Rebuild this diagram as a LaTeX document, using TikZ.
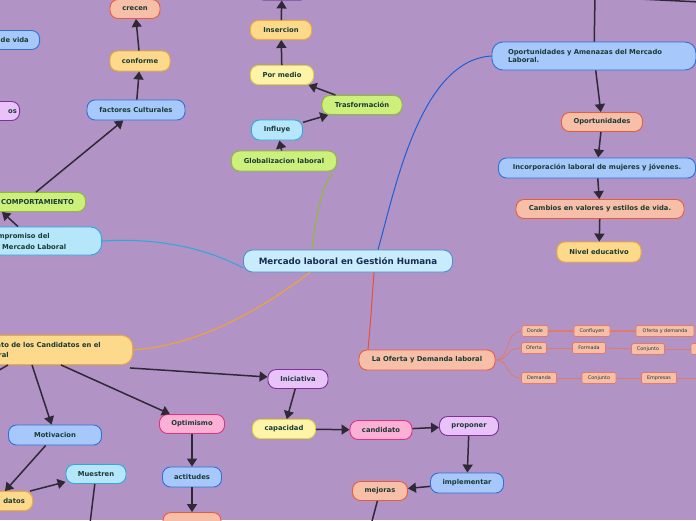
\documentclass[tikz,border=0pt]{standalone}
\usepackage{fontspec}
\setmainfont{DejaVu Sans}
\usetikzlibrary{arrows.meta}
\definecolor{bg}{HTML}{B193C6}
\definecolor{txt}{HTML}{1B3B37}
\definecolor{maintxt}{HTML}{1A2B52}
\definecolor{edge}{HTML}{2F2837}
\definecolor{blueF}{HTML}{A6C8FB}\definecolor{blueD}{HTML}{2F6FD6}
\definecolor{cyanF}{HTML}{B5E6FA}\definecolor{cyanD}{HTML}{2AA9E0}
\definecolor{limeF}{HTML}{CDF07D}\definecolor{limeD}{HTML}{8DBE2C}
\definecolor{yelF}{HTML}{FDF4A8}\definecolor{yelD}{HTML}{E6D43A}
\definecolor{orF}{HTML}{FDD98B}\definecolor{orD}{HTML}{F2AE2B}
\definecolor{salF}{HTML}{F8BFA8}\definecolor{salD}{HTML}{E85C3A}
\definecolor{pinkF}{HTML}{FCB0D5}\definecolor{pinkD}{HTML}{E2327F}
\definecolor{lavF}{HTML}{E9C2F9}\definecolor{lavD}{HTML}{7E3196}
\definecolor{mainF}{HTML}{C8ECFB}\definecolor{mainD}{HTML}{4B8FD0}
\definecolor{dpur}{HTML}{5E1F8A}
\definecolor{subL}{HTML}{E07B6B}
\definecolor{lgreen}{HTML}{8DBE2C}
\definecolor{lblue}{HTML}{1A5FD6}
\definecolor{lcyan}{HTML}{2AA9E0}
\definecolor{lorange}{HTML}{F5A623}
\definecolor{lred}{HTML}{E8503C}
\tikzset{
 nd/.style={line width=0.9pt, rounded corners=8pt, inner sep=0pt, minimum height=19pt,
   text=txt, font=\bfseries\fontsize{6.8}{8.4}\selectfont},
 lbl/.style={inner sep=0pt, text=txt, font=\bfseries\fontsize{6.8}{8.4}\selectfont},
 blue/.style={nd, fill=blueF, draw=blueD},
 cyan/.style={nd, fill=cyanF, draw=cyanD},
 lime/.style={nd, fill=limeF, draw=limeD},
 yel/.style={nd, fill=yelF, draw=yelD},
 ora/.style={nd, fill=orF, draw=orD},
 sal/.style={nd, fill=salF, draw=salD},
 pink/.style={nd, fill=pinkF, draw=pinkD},
 lav/.style={nd, fill=lavF, draw=lavD},
 sub/.style={fill=salF, draw=subL, line width=0.7pt, rounded corners=1.5pt, inner sep=0pt,
   minimum height=11pt, text=txt, font=\fontsize{4.9}{5.5}\selectfont},
 arr/.style={draw=edge, line width=1.5pt, -{Triangle[length=8pt,width=10pt]}},
 pl/.style={draw=edge, line width=1.5pt},
 br/.style={line width=1pt},
 sl/.style={draw=subL, line width=0.8pt},
}
\begin{document}
\begin{tikzpicture}[x=1pt,y=-1pt]
\fill[bg] (0,0) rectangle (696,520);
\useasboundingbox (0,0) rectangle (696,520);

% central
\node[fill=mainF, draw=mainD, line width=0.9pt, rounded corners=9pt, minimum width=209pt, minimum height=22pt,
  inner sep=0pt, text=maintxt, font=\bfseries\fontsize{8.7}{10}\selectfont] (main) at (348,261) {Mercado laboral en Gestión Humana};

% upper-middle branch
\node[lime, minimum width=105pt, minimum height=20pt] (glob) at (284,161) {Globalizacion laboral};
\node[cyan, minimum width=51pt, minimum height=20pt] (infl) at (277,130) {Influye};
\node[lime, minimum width=80pt] (tras) at (362,105) {Trasformación};
\node[yel, minimum width=63pt] (porm) at (282,75) {Por medio};
\node[ora, minimum width=61pt] (inse) at (281,30) {Insercion};
\node[nd, fill=dpur, draw=dpur, minimum width=52pt, minimum height=20pt] (topp) at (282,-10) {};
\draw[arr] (glob) -- (infl);
\draw[arr] (infl) -- (tras);
\draw[arr] (tras) -- (porm);
\draw[arr] (porm) -- (inse);
\draw[arr] (inse) -- (topp);

% upper-left branch
\node[sal, minimum width=50pt] (crec) at (135,9) {crecen};
\node[ora, minimum width=60pt, minimum height=20pt] (conf) at (140,61) {conforme};
\node[blue, minimum width=98pt, minimum height=20pt] (fact) at (136,110) {factores Culturales};
\node[blue, anchor=east, minimum width=80pt, minimum height=19pt] (vida) at (40,40) {};
\node[lbl, anchor=base east] (vidat) at (29,42.5) {de vida};
\node[lav, anchor=east, minimum width=50pt] (ostx) at (20,111) {};
\node[lbl, anchor=base east] (ostxt) at (17,113.5) {os};
\node[lime, anchor=east, minimum width=110pt] (comp) at (86,202) {};
\node[lbl, anchor=base east] (compt) at (74,204.5) {COMPORTAMIENTO};
\node[cyan, anchor=east, minimum width=130pt, minimum height=28pt, rounded corners=11pt] (compr) at (102,241) {};
\node[lbl, anchor=base east] (comprt1) at (50,238.5) {Compromiso del};
\node[lbl, anchor=base west] (comprt2) at (2,249) {Mercado Laboral};
\draw[arr] ([xshift=-50pt]comp.north east) -- (fact);
\draw[arr] ([xshift=-84pt]compr.north east) -- ([xshift=-84pt]comp.south east);
\draw[arr] (fact) -- (conf);
\draw[arr] (conf) -- (crec);

% lower-left branch
\node[ora, anchor=east, minimum width=225pt, minimum height=29pt, rounded corners=11pt] (cand) at (133,350) {};
\node[lbl, anchor=base east] (candt1) at (101,347.5) {Comportamiento de los Candidatos en el};
\node[lbl, anchor=base west] (candt2) at ([yshift=-10pt]candt1.base west) {Mercado Laboral};
\node[blue, minimum width=93pt, minimum height=20pt] (moti) at (55,435) {Motivacion};
\node[ora, anchor=east, minimum width=60pt] (dato) at (33,501) {};
\node[lbl, anchor=base east] (datot) at (25,503.5) {datos};
\node[cyan, minimum width=60pt] (mues) at (96,474) {Muestren};
\coordinate (muesend) at (89,532);
\node[pink, minimum width=65pt] (opti) at (192,424) {Optimismo};
\node[blue, minimum width=59pt, minimum height=20pt] (acti) at (192,477) {actitudes};
\node[sal, minimum width=58pt] (bsal) at (192,522) {};
\node[lav, minimum width=60pt] (inic) at (298,379) {Iniciativa};
\node[yel, minimum width=63pt] (capa) at (284,429) {capacidad};
\node[pink, minimum width=62pt] (cndt) at (381,430) {candidato};
\node[lav, minimum width=59pt] (prop) at (469,426) {proponer};
\node[blue, minimum width=73pt, minimum height=20pt] (impl) at (467,483) {implementar};
\node[sal, minimum width=55pt] (mejo) at (380,491) {mejoras};
\coordinate (mejoend) at (371,525);
\coordinate (candend) at (-4,372);
\draw[arr] ([xshift=-101pt]cand.south east) -- (moti);
\draw[arr] ([xshift=-72pt]cand.south east) -- (opti);
\draw[arr] ([xshift=-3pt,yshift=-3pt]cand.south east) -- (inic);
\draw[pl] ([xshift=-125pt]cand.south east) -- (candend);
\draw[arr] (moti) -- ([xshift=-28pt]dato.north east);
\draw[arr] ([xshift=-3pt]dato.north east) -- (mues);
\draw[arr] (mues) -- (muesend);
\draw[arr] (opti) -- (acti);
\draw[arr] (acti) -- (bsal);
\draw[arr] (inic) -- (capa);
\draw[arr] (capa) -- (cndt);
\draw[arr] (cndt) -- (prop);
\draw[arr] (prop) -- (impl);
\draw[arr] (impl) -- (mejo);
\draw[pl] (mejo) -- (mejoend);

% right upper branch
\node[blue, minimum width=204pt, minimum height=28pt, rounded corners=11pt, text width=172pt, align=left] (oam) at (594,56)
  {Oportunidades y Amenazas del Mercado\\Laboral.};
\node[sal, minimum width=81pt] (opor) at (602,122) {Oportunidades};
\node[blue, minimum width=197pt, minimum height=20pt] (inco) at (597,168) {Incorporación laboral de mujeres y jóvenes.};
\node[sal, minimum width=168pt] (camb) at (600,209) {Cambios en valores y estilos de vida.};
\node[ora, minimum width=84pt, minimum height=20pt] (nive) at (599,252) {Nivel educativo};
\coordinate (oamtop) at (595,-5);
\coordinate (trA) at (640,-1);
\coordinate (trB) at (700,2);
\draw[pl] (oamtop) -- (oam);
\draw[pl] (trA) -- (trB);
\draw[arr] (oam) -- (opor);
\draw[arr] (opor) -- (inco);
\draw[arr] (inco) -- (camb);
\draw[arr] (camb) -- (nive);

% oferta y demanda
\node[sal, minimum width=136pt, minimum height=20pt] (ofde) at (427,360) {La Oferta y Demanda laboral};
\node[sub, minimum width=26pt] (dond) at (535,331) {Donde};
\node[sub, minimum width=36pt] (conflu) at (592,331) {Confluyen};
\node[sub, minimum width=58pt] (oyd) at (665,331) {Oferta y demanda};
\node[sub, minimum width=25pt] (ofer) at (534,348) {Oferta};
\node[sub, minimum width=33pt] (form) at (589,348) {Formada};
\node[sub, minimum width=33pt] (conj1) at (648,349) {Conjunto};
\node[sub, minimum width=20pt] (cut1) at (701,349) {};
\node[sub, minimum width=35pt] (dema) at (539,378) {Demanda};
\node[sub, minimum width=34pt] (conj2) at (599,378) {Conjunto};
\node[sub, minimum width=35pt] (empr) at (659,378) {Empresas};
\coordinate (emprend) at (700,378);
\draw[sl] (ofde.east) .. controls (510,360) and (505,331) .. (dond.west);
\draw[sl] (ofde.east) .. controls (510,360) and (505,348) .. (ofer.west);
\draw[sl] (ofde.east) .. controls (510,360) and (505,378) .. (dema.west);
\draw[sl, line width=1.6pt] (dond) -- (conflu);
\draw[sl, line width=1.6pt] (conflu) -- (oyd);
\draw[sl] (ofer) -- (form);
\draw[sl] (form) -- (conj1);
\draw[sl] (conj1) -- (cut1);
\draw[sl] (dema) -- (conj2);
\draw[sl] (conj2) -- (empr);
\draw[sl] (empr) -- (emprend);

% main branches
\draw[br, draw=lgreen] ([xshift=-36pt]main.north) .. controls (316,215) and (322,185) .. ([xshift=-4pt,yshift=-2pt]glob.south east);
\draw[br, draw=lblue] ([xshift=30pt]main.north) .. controls (395,190) and (420,60) .. (oam.west);
\draw[br, draw=lcyan] ([yshift=-7pt]main.west) .. controls (200,245) and (150,238) .. (compr.east);
\draw[br, draw=lorange] ([xshift=-38pt]main.south) .. controls (260,310) and (200,345) .. (cand.east);
\draw[br, draw=lred] ([xshift=26pt]main.south) .. controls (372,300) and (370,330) .. ([xshift=-59pt]ofde.north);
\end{tikzpicture}
\end{document}
